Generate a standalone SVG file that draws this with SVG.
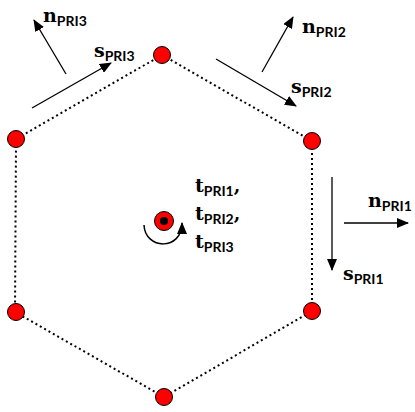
<svg xmlns="http://www.w3.org/2000/svg" width="415" height="412" viewBox="0 0 415 412">
<style>
.dot{fill:none;stroke:#000;stroke-width:2;stroke-dasharray:2 3}
.arr{fill:none;stroke:#000;stroke-width:1.3;marker-end:url(#ah)}
.node{fill:#f00;stroke:#000;stroke-width:1}
.lbl{font-family:"DejaVu Serif",serif;font-weight:bold;font-size:19px;fill:#000}
.sub{font-family:Lato,"Liberation Sans",sans-serif;font-weight:bold;font-size:14px}
</style>
<defs>
<marker id="ah" markerWidth="12" markerHeight="10" refX="11" refY="5" orient="auto" markerUnits="userSpaceOnUse">
<path d="M0,0 L12,5 L0,10 Z" fill="#000"/>
</marker>
</defs>
<g id="connectors">
<path class="dot" d="M162,55 L312,141 L312,311 L164,397 L15,312 L16,139 Z"/>
<line class="arr" x1="66" y1="74" x2="34" y2="20"/>
<line class="arr" x1="32" y1="108" x2="111" y2="63"/>
<line class="arr" x1="262" y1="72" x2="293" y2="17"/>
<line class="arr" x1="216" y1="59" x2="296" y2="106"/>
<line class="arr" x1="332" y1="177" x2="332" y2="270"/>
<line class="arr" x1="344" y1="223" x2="408" y2="223"/>
<path class="arr" style="stroke-width:1.5" d="M144,225 C145,250 182,251 182,223"/>
</g>
<g id="n1"><circle class="node" cx="162" cy="55" r="8.5"/></g>
<g id="n2"><circle class="node" cx="312" cy="141" r="8.5"/></g>
<g id="n3"><circle class="node" cx="312" cy="311" r="8.5"/></g>
<g id="n4"><circle class="node" cx="164" cy="397" r="8.5"/></g>
<g id="n5"><circle class="node" cx="16" cy="312" r="8.5"/></g>
<g id="n6"><circle class="node" cx="16" cy="139" r="8.5"/></g>
<g id="center"><circle class="node" cx="164" cy="221" r="9.5"/><circle cx="164" cy="221" r="4" fill="#000"/></g>
<g id="labels">
<text class="lbl" x="43" y="22">n<tspan class="sub" dy="4">PRI3</tspan></text>
<text class="lbl" x="94" y="57">s<tspan class="sub" dy="4">PRI3</tspan></text>
<text class="lbl" x="302" y="33">n<tspan class="sub" dy="4">PRI2</tspan></text>
<text class="lbl" x="291" y="93">s<tspan class="sub" dy="4">PRI2</tspan></text>
<text class="lbl" x="368" y="207">n<tspan class="sub" dy="4">PRI1</tspan></text>
<text class="lbl" x="343" y="280">s<tspan class="sub" dy="4">PRI1</tspan></text>
<text class="lbl" x="195" y="192">t<tspan class="sub" dy="4">PRI1</tspan><tspan dy="-4">,</tspan></text>
<text class="lbl" x="195" y="220">t<tspan class="sub" dy="4">PRI2</tspan><tspan dy="-4">,</tspan></text>
<text class="lbl" x="195" y="248">t<tspan class="sub" dy="4">PRI3</tspan></text>
</g>
</svg>
